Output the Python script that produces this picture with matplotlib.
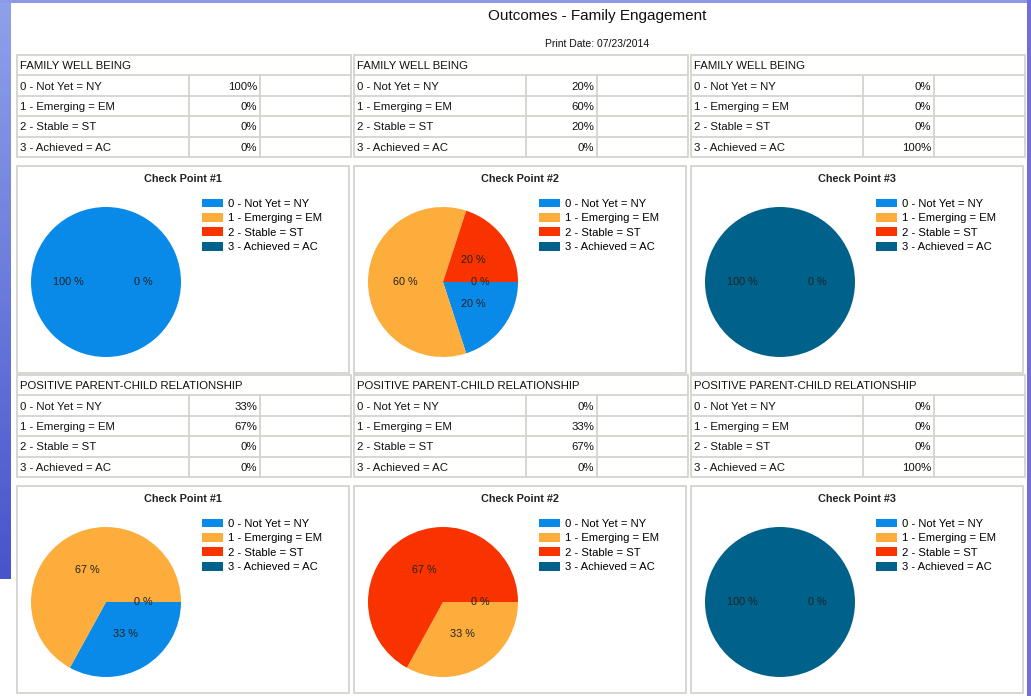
import numpy as np
import matplotlib
matplotlib.use("Agg")
import matplotlib.pyplot as plt
from matplotlib.patches import Rectangle

plt.rcParams['font.family'] = ['Liberation Sans', 'DejaVu Sans']

W, H = 1031, 696

title = "Outcomes - Family Engagement"
print_date = "Print Date: 07/23/2014"
levels = ['0 - Not Yet = NY', '1 - Emerging = EM', '2 - Stable = ST', '3 - Achieved = AC']
sections = ['FAMILY WELL BEING', 'POSITIVE PARENT-CHILD RELATIONSHIP']
checkpoints = ['Check Point #1', 'Check Point #2', 'Check Point #3']
# percentages per section, per check point, per level
family_well_being = [[100, 0, 0, 0], [20, 60, 20, 0], [0, 0, 0, 100]]
parent_child = [[33, 67, 0, 0], [0, 33, 67, 0], [0, 0, 0, 100]]
values = [family_well_being, parent_child]
colors = ['#0a8ae8', '#fdad3c', '#f93300', '#00628a']

grid = '#d6d3ce'

fig = plt.figure(figsize=(W / 100, H / 100), dpi=100)
bg = fig.add_axes([0, 0, 1, 1])
bg.set_xlim(0, W)
bg.set_ylim(H, 0)
bg.axis('off')

# window frame bits around the report
grad = np.linspace(0, 1, 100).reshape(-1, 1)
top_c = np.array([0.56, 0.63, 0.92])
bot_c = np.array([0.28, 0.33, 0.80])
img = top_c + (bot_c - top_c) * grad[..., None]
bg.imshow(img, extent=[0, 11, 579, 0], aspect='auto', zorder=0)
bg.add_patch(Rectangle((0, 0), W, 3, color='#8d98e6', lw=0, zorder=0))
bg.add_patch(Rectangle((1027, 0), 4, H, color='#6f6fd8', lw=0, zorder=0))

bg.text(597, 16, title, ha='center', va='center', fontsize=11, color='#111111')
bg.text(597, 44, print_date, ha='center', va='center', fontsize=7.5, color='#111111')

col_left = [17, 354, 691]
table_top = [55, 375]
panel_top = [166, 486]
row_h = 20.4
tw = 334

for s, sec in enumerate(sections):
    for c in range(3):
        x0 = col_left[c]
        y0 = table_top[s]
        # table
        ys = [y0 + i * row_h for i in range(6)]
        for y in ys:
            bg.plot([x0, x0 + tw], [y, y], color=grid, lw=1.3, solid_capstyle='butt')
        for x in [x0, x0 + tw]:
            bg.plot([x, x], [ys[0], ys[-1]], color=grid, lw=1.3)
        for x in [x0 + 172, x0 + 243]:
            bg.plot([x, x], [ys[1], ys[-1]], color=grid, lw=1.3)
        bg.text(x0 + 3, (ys[0] + ys[1]) / 2 + 1, sec, ha='left', va='center',
                fontsize=8.2, color='#111111')
        for i, lev in enumerate(levels):
            yc = (ys[i + 1] + ys[i + 2]) / 2 + 1
            bg.text(x0 + 3, yc, lev, ha='left', va='center', fontsize=8.2, color='#111111')
            bg.text(x0 + 240, yc, f"{values[s][c][i]}%", ha='right', va='center',
                    fontsize=8.2, color='#111111')

        # chart panel
        py = panel_top[s]
        bg.add_patch(Rectangle((x0, py), 332, 207, fill=False, edgecolor=grid, lw=1.3))
        bg.text(x0 + 166, py + 13.5, checkpoints[c], ha='center', va='center',
                fontsize=7.8, fontweight='bold', color='#222222')

        cx, cy, r = x0 + 89, py + 116, 75
        ax = fig.add_axes([(cx - r) / W, 1 - (cy + r) / H, 2 * r / W, 2 * r / H])
        wedges, _, autotexts = ax.pie(values[s][c], colors=colors, startangle=0,
                                      counterclock=False, autopct=lambda p: f"{p:.0f} %",
                                      pctdistance=0.5, wedgeprops=dict(linewidth=0),
                                      textprops=dict(fontsize=7.8, color='#222222'))
        # zero slices all sit on the same spot; keep one label there
        seen = set()
        for t in autotexts:
            key = (round(t.get_position()[0], 3), round(t.get_position()[1], 3))
            if key in seen:
                t.set_visible(False)
            seen.add(key)
        ax.set_xlim(-1, 1)
        ax.set_ylim(-1, 1)
        ax.axis('off')
        fig.legend(wedges, levels, loc='upper left',
                   bbox_to_anchor=((x0 + 185) / W, 1 - (py + 32.5) / H),
                   frameon=False, fontsize=8.1, handlelength=1.85, handleheight=0.8,
                   handletextpad=0.45, labelspacing=0.38, borderpad=0, borderaxespad=0)

fig.savefig('out.png', dpi=100)
